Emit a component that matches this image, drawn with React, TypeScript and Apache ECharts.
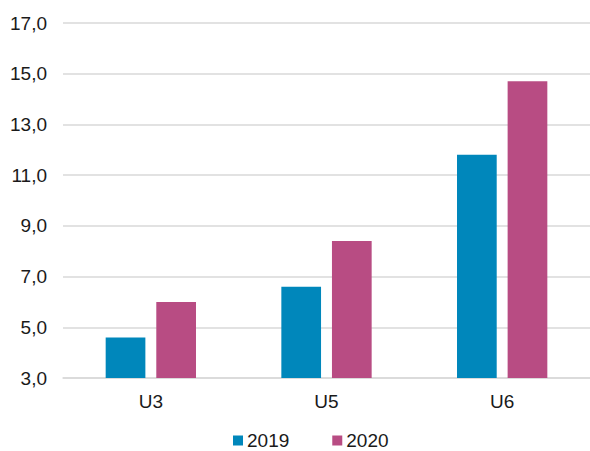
import React, { useEffect, useRef } from "react";
import * as echarts from "echarts";

const categories = ["U3", "U5", "U6"];
const series2019 = [4.6, 6.6, 11.8];
const series2020 = [6.0, 8.4, 14.7];
const seriesNames = ["2019", "2020"];
const colors = ["#0087BB", "#B84C83"];

export default function App() {
  const ref = useRef<HTMLDivElement>(null);
  useEffect(() => {
    if (!ref.current) return;
    const chart = echarts.init(ref.current, null, { renderer: "svg" });
    const font = "'Liberation Sans', Arial, sans-serif";
    chart.setOption({
      animation: false,
      color: colors,
      grid: { left: 63, width: 530, top: 23, height: 355, containLabel: false },
      legend: {
        data: seriesNames,
        top: 431,
        left: 233,
        padding: 0,
        itemWidth: 10,
        itemHeight: 10,
        itemGap: 43,
        icon: "rect",
        textStyle: {
          fontFamily: font,
          fontSize: 19,
          lineHeight: 19,
          color: "#1a1a1a",
          padding: [0, 0, 0, -1],
        },
      },
      xAxis: {
        type: "category",
        data: categories,
        axisTick: { show: false },
        axisLine: { lineStyle: { color: "#d9d9d9", width: 1.5 } },
        axisLabel: { fontFamily: font, fontSize: 19, color: "#1a1a1a", margin: 14 },
      },
      yAxis: {
        type: "value",
        min: 3,
        max: 17,
        interval: 2,
        axisLine: { show: false },
        axisTick: { show: false },
        splitLine: { lineStyle: { color: "#d9d9d9", width: 1.5 } },
        axisLabel: {
          fontFamily: font,
          fontSize: 19,
          color: "#1a1a1a",
          margin: 16,
          formatter: (v: number) => v.toFixed(1).replace(".", ","),
        },
      },
      series: [
        { name: seriesNames[0], type: "bar", data: series2019, barWidth: "22.6%", barGap: "27.5%" },
        { name: seriesNames[1], type: "bar", data: series2020, barWidth: "22.6%", barGap: "27.5%" },
      ],
    });
    return () => chart.dispose();
  }, []);
  return (
    <div
      ref={ref}
      style={{ position: "absolute", left: 0, top: 0, width: 590, height: 451 }}
    />
  );
}
